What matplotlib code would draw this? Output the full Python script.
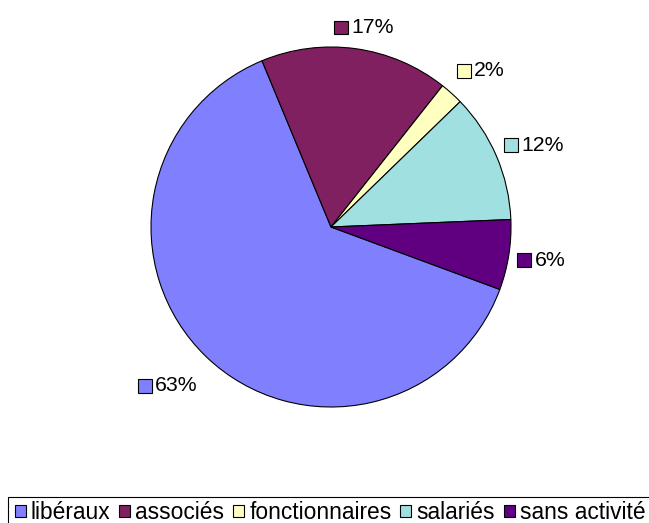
import numpy as np
import matplotlib
matplotlib.use("Agg")
import matplotlib.pyplot as plt
from matplotlib.patches import Rectangle, Patch
from matplotlib.offsetbox import AnnotationBbox, HPacker, TextArea, DrawingArea

plt.rcParams['font.family'] = ['Liberation Sans', 'DejaVu Sans']

categories = ["libéraux", "associés", "fonctionnaires", "salariés", "sans activité"]
values = [63.1, 16.9, 2.1, 11.6, 6.3]
labels = ["63%", "17%", "2%", "12%", "6%"]
colors = ["#8080FF", "#802060", "#FFFFC0", "#A0E0E0", "#600080"]

# layout nudges for the labels (image pixels: right, down)
label_nudge = [(-5, 9), (2, 6), (1, -2), (-6, 0), (-9, 1)]

W, H = 649, 523
fig = plt.figure(figsize=(W / 100, H / 100), dpi=100)
R = 180.0
cx, cy = 331, 227
half = 1.5 * R
ax = fig.add_axes([(cx - half) / W, (H - cy - half) / H, 2 * half / W, 2 * half / H])

startangle = -20.3
wedges, _ = ax.pie(values, colors=colors, startangle=startangle, counterclock=False,
                   radius=1.0, center=(0, 0), frame=True,
                   wedgeprops=dict(edgecolor='black', linewidth=0.8))
ax.set_xlim(-1.5, 1.5)
ax.set_ylim(-1.5, 1.5)
ax.set_aspect('equal')
ax.axis('off')

fs_lab = 15.3
fs_leg = 16.4
r0 = 1.1
for w, lab, col, (ndx, ndy) in zip(wedges, labels, colors, label_nudge):
    mid = np.deg2rad((w.theta1 + w.theta2) / 2)
    ux, uy = np.cos(mid), np.sin(mid)
    da = DrawingArea(10, 10, 0, 0)
    da.add_artist(Rectangle((0, 0), 10, 10, facecolor=col, edgecolor='black', linewidth=0.8))
    ta = TextArea(lab, textprops=dict(fontsize=fs_lab, color='black'))
    box = HPacker(children=[da, ta], align='center', pad=0, sep=2.5)
    ab = AnnotationBbox(box, (r0 * ux, r0 * uy), xycoords='data',
                        xybox=(ndx * 0.72, -ndy * 0.72), boxcoords='offset points',
                        box_alignment=(0.5 - 0.5 * ux, 0.5 - 0.5 * uy),
                        frameon=False, pad=0, annotation_clip=False)
    ax.add_artist(ab)

# legend frame (extends past the right and bottom edges, as in the reference)
fig.add_artist(Rectangle((8 / W, -20 / H), 700 / W, (H - 497 + 20) / H,
                         transform=fig.transFigure, facecolor='white',
                         edgecolor='black', linewidth=0.8, zorder=0.5))

handles = [Patch(facecolor=c, edgecolor='black', linewidth=0.8) for c in colors]
leg = fig.legend(handles, categories, ncol=5, loc='upper left',
                 bbox_to_anchor=(15 / W, 1 - 501 / H), bbox_transform=fig.transFigure,
                 fontsize=fs_leg, frameon=False,
                 borderpad=0, borderaxespad=0, handlelength=0.48, handleheight=0.48,
                 handletextpad=0.22, columnspacing=0.39)

fig.savefig("out.png", dpi=100)
